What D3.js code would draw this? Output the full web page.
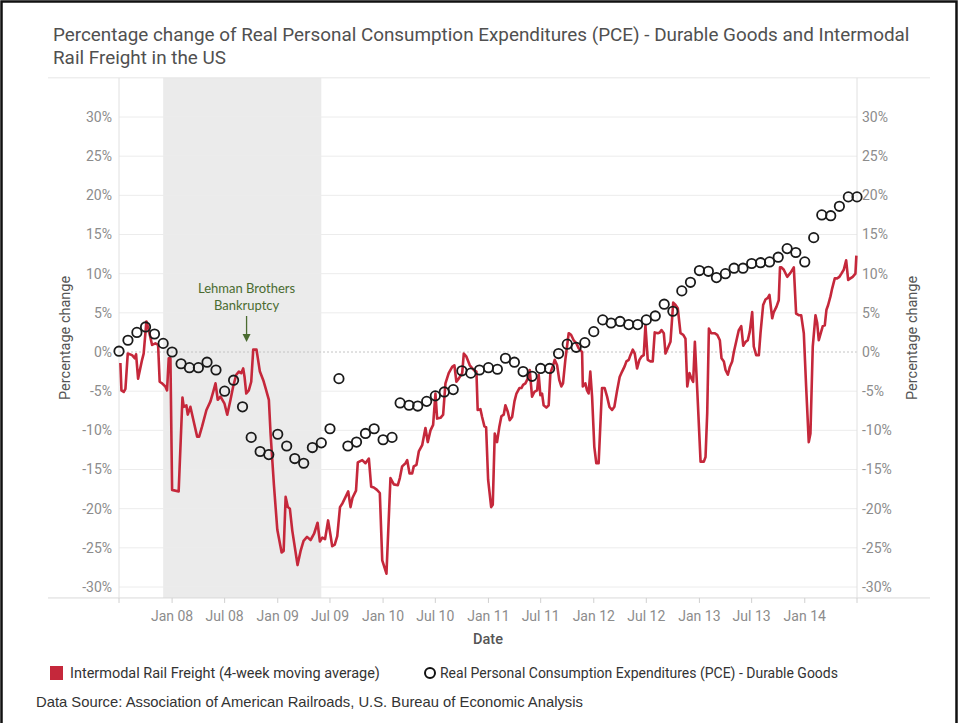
<!DOCTYPE html>
<html><head><meta charset="utf-8">
<script src="https://cdn.jsdelivr.net/npm/d3@7"></script>
<style>
html,body{margin:0;padding:0;background:#fff;}
svg{display:block;}
</style></head>
<body>
<svg id="chart" width="958" height="723"></svg>
<script>
// ---------------- DATA ----------------
const titleLines = ["Percentage change of Real Personal Consumption Expenditures (PCE) - Durable Goods and Intermodal", "Rail Freight in the US"];
const yTicks = [-30, -25, -20, -15, -10, -5, 0, 5, 10, 15, 20, 25, 30];
const xTickLabels = ["Jan 08","Jul 08","Jan 09","Jul 09","Jan 10","Jul 10","Jan 11","Jul 11","Jan 12","Jul 12","Jan 13","Jul 13","Jan 14"];
const recession = ["2007-12-01", "2009-06-01"];
const annotationLines = ["Lehman Brothers", "Bankruptcy"];
const annotationDate = "2008-09-15";
const legendLabels = ["Intermodal Rail Freight (4-week moving average)", "Real Personal Consumption Expenditures (PCE) - Durable Goods"];
const sourceText = "Data Source: Association of American Railroads, U.S. Bureau of Economic Analysis";

// PCE durable goods, monthly (% change)
const pceMonths = [
 "2007-07","2007-08","2007-09","2007-10","2007-11","2007-12",
 "2008-01","2008-02","2008-03","2008-04","2008-05","2008-06","2008-07","2008-08","2008-09","2008-10","2008-11","2008-12",
 "2009-01","2009-02","2009-03","2009-04","2009-05","2009-06","2009-07","2009-08","2009-09","2009-10","2009-11","2009-12",
 "2010-01","2010-02","2010-03","2010-04","2010-05","2010-06","2010-07","2010-08","2010-09","2010-10","2010-11","2010-12",
 "2011-01","2011-02","2011-03","2011-04","2011-05","2011-06","2011-07","2011-08","2011-09","2011-10","2011-11","2011-12",
 "2012-01","2012-02","2012-03","2012-04","2012-05","2012-06","2012-07","2012-08","2012-09","2012-10","2012-11","2012-12",
 "2013-01","2013-02","2013-03","2013-04","2013-05","2013-06","2013-07","2013-08","2013-09","2013-10","2013-11","2013-12",
 "2014-01","2014-02","2014-03","2014-04","2014-05","2014-06","2014-07"];
const pceValues = [
 0.1, 1.5, 2.5, 3.2, 2.3, 1.1,
 0.0, -1.5, -2.0, -2.0, -1.3, -2.3, -5.0, -3.6, -7.0, -10.9, -12.7, -13.1,
 -10.5, -12.0, -13.6, -14.2, -12.2, -11.6, -9.8, -3.4, -12.0, -11.5, -10.4, -9.8,
 -11.2, -10.9, -6.5, -6.8, -6.9, -6.3, -5.6, -5.1, -4.8, -2.4, -2.7, -2.3,
 -2.0, -2.2, -0.8, -1.3, -2.5, -3.1, -2.1, -2.1, -0.2, 1.0, 0.6, 1.2,
 2.6, 4.1, 3.7, 3.9, 3.5, 3.5, 4.1, 4.6, 6.1, 5.2, 7.8, 8.9,
 10.4, 10.3, 9.5, 10.0, 10.7, 10.7, 11.3, 11.4, 11.5, 12.1, 13.2, 12.7,
 11.5, 14.6, 17.5, 17.4, 18.6, 19.8, 19.8];

// Intermodal rail freight, 4-week moving average (% change); time as decimal year
const railTime = [
 2007.509,2007.519,2007.541,2007.557,2007.579,2007.620,2007.645,2007.658,2007.677,2007.715,2007.730,2007.756,2007.778,2007.810,2007.841,2007.867,2007.882,2007.905,2007.936,2007.952,2007.968,2007.984,
 2008.000,2008.062,2008.098,2008.110,2008.135,2008.148,2008.173,2008.205,2008.237,2008.256,2008.284,2008.325,2008.363,2008.389,2008.411,2008.432,2008.458,2008.496,2008.522,2008.553,2008.578,2008.607,2008.632,2008.654,2008.673,2008.686,2008.702,2008.726,2008.749,2008.768,2008.799,2008.831,2008.863,2008.885,2008.916,2008.932,2008.964,2008.996,
 2009.037,2009.056,2009.075,2009.096,2009.115,2009.138,2009.188,2009.217,2009.245,2009.278,2009.312,2009.345,2009.378,2009.400,2009.423,2009.449,2009.478,2009.501,2009.517,2009.541,2009.565,2009.591,2009.615,2009.644,2009.669,2009.691,2009.710,2009.743,2009.760,2009.802,2009.833,2009.865,2009.887,2009.912,2009.942,2009.969,2009.992,
 2010.032,2010.070,2010.102,2010.140,2010.159,2010.181,2010.213,2010.229,2010.251,2010.276,2010.291,2010.317,2010.339,2010.371,2010.402,2010.424,2010.450,2010.475,2010.497,2010.513,2010.545,2010.570,2010.592,2010.623,2010.656,2010.677,2010.696,2010.718,2010.751,2010.766,2010.791,2010.823,2010.861,2010.886,2010.898,2010.924,2010.940,2010.962,2010.978,2010.997,
 2011.026,2011.041,2011.060,2011.082,2011.104,2011.123,2011.145,2011.161,2011.183,2011.202,2011.225,2011.247,2011.266,2011.294,2011.313,2011.329,2011.351,2011.373,2011.392,2011.414,2011.436,2011.462,2011.477,2011.493,2011.509,2011.524,2011.550,2011.572,2011.588,2011.614,2011.629,2011.652,2011.673,2011.692,2011.708,2011.730,2011.762,2011.784,2011.809,2011.835,2011.856,2011.889,2011.896,2011.920,2011.936,2011.951,2011.967,2011.984,
 2012.005,2012.024,2012.046,2012.078,2012.103,2012.126,2012.148,2012.173,2012.195,2012.221,2012.245,2012.268,2012.293,2012.309,2012.331,2012.347,2012.369,2012.388,2012.410,2012.432,2012.451,2012.473,2012.489,2012.511,2012.536,2012.558,2012.577,2012.606,2012.625,2012.641,2012.663,2012.679,2012.701,2012.726,2012.752,2012.774,2012.795,2012.821,2012.847,2012.868,2012.885,2012.906,2012.925,2012.941,2012.957,2012.980,
 2013.011,2013.042,2013.058,2013.074,2013.090,2013.112,2013.144,2013.169,2013.194,2013.210,2013.232,2013.248,2013.270,2013.289,2013.311,2013.327,2013.352,2013.374,2013.397,2013.416,2013.438,2013.459,2013.478,2013.501,2013.516,2013.539,2013.564,2013.580,2013.605,2013.627,2013.649,2013.665,2013.691,2013.706,2013.732,2013.753,2013.765,2013.779,2013.801,2013.833,2013.864,2013.896,2013.918,2013.943,2013.966,2013.991,
 2014.013,2014.038,2014.054,2014.076,2014.102,2014.118,2014.133,2014.156,2014.171,2014.190,2014.206,2014.222,2014.244,2014.260,2014.285,2014.307,2014.329,2014.348,2014.370,2014.393,2014.412,2014.433,2014.455,2014.481,2014.490];
const railValues = [
 -1.4,-4.9,-5.1,-4.7,-0.2,-0.4,-0.8,-0.3,-3.4,-1.0,-0.2,3.9,2.8,0.9,1.1,0.9,-3.8,-4.0,-4.4,-4.9,-0.8,-0.8,
 -17.6,-17.8,-5.8,-7.0,-6.8,-8.0,-7.0,-8.9,-10.8,-10.8,-9.5,-7.4,-6.3,-5.1,-4.0,-6.1,-5.7,-6.6,-8.0,-6.1,-4.4,-2.9,-2.5,-2.7,-2.1,-3.2,-5.3,-4.9,-3.8,0.3,0.3,-2.5,-3.6,-4.6,-6.1,-10.4,-17.0,-22.7,
 -25.6,-25.4,-18.5,-19.8,-20.0,-22.8,-27.2,-25.4,-24.1,-23.6,-24.0,-23.2,-21.8,-24.2,-23.7,-23.9,-21.5,-23.4,-24.8,-24.6,-23.5,-19.8,-19.3,-18.5,-17.8,-19.8,-18.6,-17.7,-14.1,-13.8,-14.2,-13.6,-17.2,-17.3,-17.6,-18.0,-26.6,
 -28.3,-16.1,-16.9,-17.0,-16.1,-14.6,-14.2,-13.8,-15.5,-15.5,-14.6,-14.4,-12.7,-11.9,-9.7,-11.5,-10.0,-9.3,-5.3,-8.5,-8.4,-8.0,-4.0,-2.7,-1.9,-1.7,-3.8,-3.4,-2.7,-0.2,-0.6,-1.7,-2.3,-2.5,-7.4,-7.3,-8.3,-9.5,-9.6,-16.3,
 -19.8,-19.5,-10.4,-11.5,-9.5,-8.2,-8.0,-6.8,-7.6,-8.7,-8.3,-6.3,-5.3,-4.6,-4.6,-4.2,-4.0,-3.4,-2.3,-5.7,-5.1,-4.9,-2.9,-5.5,-5.3,-6.8,-7.1,-6.8,-2.7,-1.7,-1.0,-1.7,-3.6,-4.4,-4.0,-1.0,2.4,2.2,1.5,1.1,0.5,0.0,-4.4,-4.0,-4.9,-5.3,-2.5,-5.7,
 -12.1,-14.2,-14.2,-4.6,-4.6,-5.7,-7.0,-7.4,-7.0,-4.9,-3.2,-2.5,-1.8,-1.2,-1.0,-0.4,0.3,-0.2,-2.1,-1.0,-0.6,-0.4,3.4,-1.0,-1.2,-1.2,2.5,2.4,2.5,2.8,2.4,-0.2,0.5,1.3,6.3,6.0,5.6,2.4,2.2,1.7,-4.4,-2.7,-3.4,-3.8,1.3,-5.0,
 -14.0,-14.0,-13.4,-7.8,3.0,2.4,2.4,2.2,1.5,-0.8,-1.2,-2.3,-2.9,-1.9,-1.2,0.0,1.5,2.8,3.3,0.8,1.3,1.5,2.6,5.1,0.7,-0.4,-0.4,2.4,6.0,6.7,6.9,7.3,4.3,5.1,5.8,6.6,10.8,10.8,10.5,9.6,10.1,10.8,4.9,4.7,4.7,2.4,
 -4.4,-11.5,-10.4,0.7,4.7,3.7,1.5,2.6,3.3,3.4,5.4,6.0,7.1,8.1,9.4,9.4,9.6,10.0,10.5,11.7,9.2,9.4,9.6,10.0,12.3];

// ---------------- HELPERS ----------------
const parseMonth = d3.timeParse("%Y-%m");
const parseDay = d3.timeParse("%Y-%m-%d");
const parseTick = d3.timeParse("%b %y");
function decToDate(t) {
  const yr = Math.floor(t);
  const a = new Date(yr, 0, 1), b = new Date(yr + 1, 0, 1);
  return new Date(+a + (t - yr) * (b - a));
}
const uiFont = "Roboto, 'Open Sans', sans-serif";

// set font-size so the text's natural width matches the target width
function fitSize(sel, target) {
  const fs = +sel.attr("font-size");
  const w = sel.node().getComputedTextLength();
  if (w > 0) sel.attr("font-size", (fs * target / w).toFixed(2));
  return +sel.attr("font-size");
}

// ---------------- LAYOUT ----------------
const svg = d3.select("#chart");
const W = 958, H = 723;
const plotLeft = 119, plotRight = 857;
const paneLeft = 48, paneRight = 930;

const x = d3.scaleTime()
  .domain([new Date(2007, 6, 1), new Date(2014, 6, 1)])
  .range([plotLeft, plotRight]);
const y = d3.scaleLinear().domain([-30, 30]).range([587, 117]);
const plotTop = y(35), plotBottom = y(-31.4);

// frame
svg.append("rect").attr("x", 0).attr("y", 0).attr("width", W).attr("height", H).attr("fill", "#fff");
svg.append("path").attr("d", `M1.5,${H} V1.5 H${W - 1.5} V${H}`).attr("fill", "none").attr("stroke", "#111").attr("stroke-width", 2.5);

// title
const t1 = svg.append("text").attr("x", 53).attr("y", 41)
  .attr("font-family", uiFont).attr("font-size", 19).attr("fill", "#505050").text(titleLines[0]);
const titleSize = fitSize(t1, 857);
svg.append("text").attr("x", 53).attr("y", 64)
  .attr("font-family", uiFont).attr("font-size", titleSize).attr("fill", "#505050").text(titleLines[1]);

// recession shading
svg.append("rect")
  .attr("x", x(parseDay(recession[0]))).attr("y", plotTop)
  .attr("width", x(parseDay(recession[1])) - x(parseDay(recession[0])))
  .attr("height", plotBottom - plotTop)
  .attr("fill", "#ebebeb");

// gridlines
svg.append("g").selectAll("line").data(yTicks.filter(v => v !== 0)).join("line")
  .attr("x1", plotLeft).attr("x2", plotRight)
  .attr("y1", d => y(d)).attr("y2", d => y(d))
  .attr("stroke", "#ececec").attr("stroke-width", 1);
svg.append("line").attr("x1", plotLeft).attr("x2", plotRight)
  .attr("y1", y(0)).attr("y2", y(0))
  .attr("stroke", "#c4c4c4").attr("stroke-width", 1).attr("stroke-dasharray", "2,2");

// pane borders
svg.append("line").attr("x1", paneLeft).attr("x2", paneRight).attr("y1", plotTop).attr("y2", plotTop).attr("stroke", "#e6e6e6");
svg.append("line").attr("x1", paneLeft).attr("x2", paneRight).attr("y1", plotBottom).attr("y2", plotBottom).attr("stroke", "#d9d9d9");
[plotLeft, plotRight].forEach(px => {
  svg.append("line").attr("x1", px).attr("x2", px).attr("y1", plotTop).attr("y2", plotBottom).attr("stroke", "#e0e0e0");
});

// y axes labels
const yFmt = d => d + "%";
svg.append("g").selectAll("text").data(yTicks).join("text")
  .attr("x", 112).attr("y", d => y(d)).attr("dy", "0.35em").attr("text-anchor", "end")
  .attr("font-family", uiFont).attr("font-size", 14).attr("fill", "#8c8c8c").text(yFmt);
svg.append("g").selectAll("text").data(yTicks).join("text")
  .attr("x", 862).attr("y", d => y(d)).attr("dy", "0.35em").attr("text-anchor", "start")
  .attr("font-family", uiFont).attr("font-size", 14).attr("fill", "#8c8c8c").text(yFmt);

// axis titles
const ymid = (plotTop + plotBottom) / 2;
svg.append("text").attr("transform", `translate(70,${ymid}) rotate(-90)`).attr("text-anchor", "middle")
  .attr("font-family", uiFont).attr("font-size", 14.5).attr("fill", "#555").text("Percentage change");
svg.append("text").attr("transform", `translate(917,${ymid}) rotate(-90)`).attr("text-anchor", "middle")
  .attr("font-family", uiFont).attr("font-size", 14.5).attr("fill", "#555").text("Percentage change");

// x axis ticks
const tickDates = d3.timeMonth.every(6).range(new Date(2007, 6, 1), new Date(2014, 6, 2));
svg.append("g").selectAll("line").data(tickDates).join("line")
  .attr("x1", d => x(d)).attr("x2", d => x(d))
  .attr("y1", plotBottom).attr("y2", plotBottom + 5).attr("stroke", "#d0d0d0");
svg.append("g").selectAll("text").data(xTickLabels).join("text")
  .attr("x", d => x(parseTick(d))).attr("y", 621).attr("text-anchor", "middle")
  .attr("font-family", uiFont).attr("font-size", 14).attr("fill", "#8c8c8c").text(d => d);
svg.append("text").attr("x", (plotLeft + plotRight) / 2).attr("y", 644).attr("text-anchor", "middle")
  .attr("font-family", uiFont).attr("font-size", 14.5).attr("font-weight", "500").attr("fill", "#555").text("Date");

// rail line
const railData = railTime.map((t, i) => ({ date: decToDate(t), value: railValues[i] }));
const line = d3.line().x(d => x(d.date)).y(d => y(d.value));
svg.append("path").datum(railData).attr("d", line)
  .attr("fill", "none").attr("stroke", "#c5283b").attr("stroke-width", 2.6).attr("stroke-linejoin", "round");

// PCE circles
const pceData = pceMonths.map((m, i) => ({ date: parseMonth(m), value: pceValues[i] }));
svg.append("g").selectAll("circle").data(pceData).join("circle")
  .attr("cx", d => x(d.date)).attr("cy", d => y(d.value)).attr("r", 4.7)
  .attr("fill", "none").attr("stroke", "#1a1a1a").attr("stroke-width", 1.8);

// annotation
const ax = x(parseDay(annotationDate));
annotationLines.forEach((t, i) => {
  svg.append("text").attr("x", ax).attr("y", 293 + i * 17).attr("text-anchor", "middle")
    .attr("font-family", "Lato, 'Open Sans', sans-serif").attr("font-size", 13).attr("fill", "#4a6b30").text(t);
});
svg.append("line").attr("x1", ax).attr("x2", ax).attr("y1", 316).attr("y2", 336)
  .attr("stroke", "#4a6b30").attr("stroke-width", 1.3);
svg.append("path").attr("d", `M${ax - 4},${334} L${ax + 4},${334} L${ax},${342} Z`).attr("fill", "#4a6b30");

// legend
svg.append("rect").attr("x", 50).attr("y", 666).attr("width", 13).attr("height", 14).attr("fill", "#c5283b");
const l1 = svg.append("text").attr("x", 70).attr("y", 678).attr("font-family", uiFont).attr("font-size", 15).attr("fill", "#333").text(legendLabels[0]);
fitSize(l1, 310);
svg.append("circle").attr("cx", 430).attr("cy", 673).attr("r", 5).attr("fill", "none").attr("stroke", "#111").attr("stroke-width", 2);
const l2 = svg.append("text").attr("x", 440).attr("y", 678).attr("font-family", uiFont).attr("font-size", 15).attr("fill", "#333").text(legendLabels[1]);
fitSize(l2, 398);

// source
const src = svg.append("text").attr("x", 36).attr("y", 707).attr("font-family", "'Liberation Sans', Arial, sans-serif")
  .attr("font-size", 14.5).attr("fill", "#333").text(sourceText);
fitSize(src, 547);
</script>
</body></html>
